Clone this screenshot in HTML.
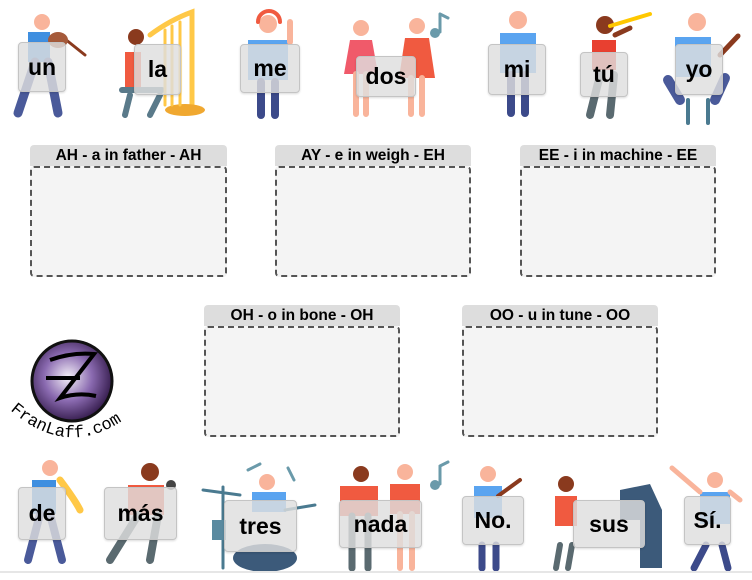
<!DOCTYPE html>
<html><head><meta charset="utf-8"><style>
body{margin:0;width:752px;height:580px;background:#fff;position:relative;overflow:hidden;font-family:"Liberation Sans",Arial,sans-serif}
svg.bg{position:absolute;left:0;top:0}
.c{position:absolute;box-sizing:border-box;background:rgba(222,222,222,0.82);border:1px solid #c4c4c4;border-radius:4px;font-weight:bold;font-size:23px;color:#000;display:flex;align-items:center;justify-content:center;box-shadow:0 1px 2px rgba(0,0,0,.15)}
.h{position:absolute;background:#ddd;border-radius:4px 4px 0 0;font-weight:bold;font-size:15.5px;text-align:center;line-height:21px;height:21px}
.z{position:absolute;box-sizing:border-box;background:#f4f4f4;border:2px dashed #555;border-radius:4px}
</style></head><body>
<svg class="bg" width="752" height="580" viewBox="0 0 752 580">
<defs><radialGradient id="g" cx="0.45" cy="0.45" r="0.6"><stop offset="0" stop-color="#f4f0f8"/><stop offset="0.5" stop-color="#8a6ab0"/><stop offset="1" stop-color="#2a1240"/></radialGradient></defs>
<g stroke-linecap="round" fill="none">
<circle cx="42" cy="22" r="8" fill="#f9b49b"/><path d="M28 32h22v30h-22z" fill="#3f8fe0"/><path d="M35 62L18 113M48 62L58 113" stroke="#4a5a9a" stroke-width="9"/><path d="M60 35L85 55" stroke="#8a3a1e" stroke-width="3"/><ellipse cx="58" cy="40" rx="10" ry="8" fill="#a55a3a"/>
<circle cx="136" cy="37" r="8" fill="#8a3a1e"/><path d="M125 52h16v40h-16z" fill="#f05a40"/><path d="M122 90h40M130 95L125 115M160 95L150 115" stroke="#5a7a8a" stroke-width="6"/><path d="M150 35Q170 20 192 12V110" stroke="#ffc847" stroke-width="5"/><ellipse cx="185" cy="110" rx="20" ry="6" fill="#f0a830"/><path d="M165 30V105M172 26V105M180 22V105" stroke="#ffc847" stroke-width="3"/>
<circle cx="268" cy="24" r="9" fill="#f9b49b"/><path d="M258 22a11 11 0 0 1 22 0" stroke="#f05a40" stroke-width="4"/><path d="M248 40h40v40h-40z" fill="#5aa4f0"/><path d="M261 82V115M275 82V115" stroke="#3c4a8a" stroke-width="8"/><path d="M290 22V42" stroke="#f9b49b" stroke-width="6"/>
<circle cx="361" cy="28" r="8" fill="#f9b49b"/><path d="M350 40h22l6 34h-34z" fill="#f05a6a"/><path d="M356 74V114M366 74V114" stroke="#f9b49b" stroke-width="6"/>
<circle cx="417" cy="26" r="8" fill="#f9b49b"/><path d="M405 38h24l6 40h-36z" fill="#f05a40"/><path d="M411 78V114M422 78V114" stroke="#f9b49b" stroke-width="6"/><path d="M440 14V32M440 14l8 4" stroke="#6a9aaa" stroke-width="3"/><circle cx="435" cy="33" r="5" fill="#6a9aaa"/>
<circle cx="518" cy="20" r="9" fill="#f9b49b"/><path d="M500 33h36v40h-36z" fill="#5aa4f0"/><path d="M511 75V113M525 75V113" stroke="#3c4a8a" stroke-width="8"/>
<circle cx="605" cy="25" r="9" fill="#8a3a1e"/><path d="M592 40h24v30h-24z" fill="#e84030"/><path d="M600 75L590 115M614 75L610 115" stroke="#5a6a70" stroke-width="8"/><path d="M610 26L650 14" stroke="#ffc800" stroke-width="4"/><path d="M615 35L630 28" stroke="#8a3a1e" stroke-width="5"/>
<circle cx="697" cy="22" r="9" fill="#f9b49b"/><path d="M675 37h36v40h-36z" fill="#5aa4f0"/><path d="M668 80L680 100M725 78L715 100" stroke="#4a5a9a" stroke-width="10"/><path d="M688 100V123M708 100V123" stroke="#4a7a90" stroke-width="4"/><path d="M720 55L738 36" stroke="#8a3a1e" stroke-width="5"/>
<circle cx="50" cy="468" r="8" fill="#f9b49b"/><path d="M32 480h24v34h-24z" fill="#3f8fe0"/><path d="M40 514L28 560M50 514L62 560" stroke="#4a5a9a" stroke-width="8"/><path d="M60 480Q75 500 80 510" stroke="#ffc847" stroke-width="7"/>
<circle cx="150" cy="472" r="9" fill="#8a3a1e"/><path d="M128 485h36v30h-36z" fill="#f05a40"/><path d="M138 515L110 560M158 515L150 560" stroke="#5a6a70" stroke-width="8"/><circle cx="171" cy="485" r="5" fill="#444"/>
<path d="M248 470L260 464M288 468L294 480" stroke="#6a9aaa" stroke-width="3"/><circle cx="267" cy="482" r="8" fill="#f9b49b"/><path d="M252 492h34v20h-34z" fill="#5aa4f0"/><path d="M203 490L240 495M285 510L315 505M223 487V568" stroke="#4a7a90" stroke-width="3"/><ellipse cx="265" cy="558" rx="32" ry="14" fill="#3c5a7a"/><rect x="212" y="520" width="14" height="20" fill="#5a8aa0"/>
<circle cx="361" cy="474" r="8" fill="#8a3a1e"/><path d="M340 486h38v30h-38z" fill="#f05a40"/><path d="M352 516V568M368 516V568" stroke="#5a6a70" stroke-width="7"/>
<circle cx="405" cy="472" r="8" fill="#f9b49b"/><path d="M390 484h30v30h-30z" fill="#f05a40"/><path d="M400 514V568M412 514V568" stroke="#f9b49b" stroke-width="6"/><path d="M440 466V484M440 466l8 -4" stroke="#6a9aaa" stroke-width="3"/><circle cx="435" cy="485" r="5" fill="#6a9aaa"/>
<circle cx="488" cy="474" r="8" fill="#f9b49b"/><path d="M474 486h28v32h-28z" fill="#5aa4f0"/><path d="M482 545V568M496 545V568" stroke="#3c4a8a" stroke-width="7"/><path d="M498 496L520 480" stroke="#8a3a1e" stroke-width="4"/>
<circle cx="566" cy="484" r="8" fill="#8a3a1e"/><path d="M555 496h22v30h-22z" fill="#f05a40"/><path d="M560 545L556 568M572 545L568 568" stroke="#5a6a70" stroke-width="6"/><path d="M620 490L650 484L662 510V568H640V520H620z" fill="#3c5a7a"/>
<circle cx="715" cy="480" r="8" fill="#f9b49b"/><path d="M700 492h30v32h-30z" fill="#5aa4f0"/><path d="M706 545L694 568M722 545L728 568" stroke="#3c4a8a" stroke-width="7"/><path d="M700 492L672 468M730 492L740 500" stroke="#f9b49b" stroke-width="5"/>
</g>
<line x1="0" y1="572" x2="752" y2="572" stroke="#e6e6e6" stroke-width="2"/>
<circle cx="72" cy="381" r="40" fill="url(#g)" stroke="#111" stroke-width="3"/>
<path d="M50 360Q72 352 94 354L60 398Q78 392 96 396" stroke="#000" stroke-width="4" fill="none"/><path d="M46 378H80" stroke="#000" stroke-width="4"/>
<path id="arc" d="M10 410Q70 462 130 415" fill="none"/>
<text font-family="Liberation Mono,monospace" font-size="17" fill="#000"><textPath href="#arc">FranLaff.com</textPath></text>
</svg>
<div class="h" style="left:30px;top:145px;width:197px">AH - a in father - AH</div><div class="z" style="left:30px;top:166px;width:197px;height:111px"></div>
<div class="h" style="left:275px;top:145px;width:196px">AY - e in weigh - EH</div><div class="z" style="left:275px;top:166px;width:196px;height:111px"></div>
<div class="h" style="left:520px;top:145px;width:196px">EE - i in machine - EE</div><div class="z" style="left:520px;top:166px;width:196px;height:111px"></div>
<div class="h" style="left:204px;top:305px;width:196px">OH - o in bone - OH</div><div class="z" style="left:204px;top:326px;width:196px;height:111px"></div>
<div class="h" style="left:462px;top:305px;width:196px">OO - u in tune - OO</div><div class="z" style="left:462px;top:326px;width:196px;height:111px"></div>
<div class="c" style="left:18px;top:42px;width:48px;height:50px">un</div>
<div class="c" style="left:134px;top:44px;width:47px;height:51px">la</div>
<div class="c" style="left:240px;top:44px;width:60px;height:49px">me</div>
<div class="c" style="left:356px;top:56px;width:60px;height:41px">dos</div>
<div class="c" style="left:488px;top:44px;width:58px;height:51px">mi</div>
<div class="c" style="left:580px;top:52px;width:48px;height:45px">tú</div>
<div class="c" style="left:675px;top:44px;width:48px;height:51px">yo</div>
<div class="c" style="left:18px;top:487px;width:48px;height:53px">de</div>
<div class="c" style="left:104px;top:487px;width:73px;height:53px">más</div>
<div class="c" style="left:224px;top:500px;width:73px;height:52px">tres</div>
<div class="c" style="left:339px;top:500px;width:83px;height:48px">nada</div>
<div class="c" style="left:462px;top:496px;width:62px;height:49px">No.</div>
<div class="c" style="left:573px;top:500px;width:72px;height:48px">sus</div>
<div class="c" style="left:684px;top:496px;width:47px;height:49px">Sí.</div>
</body></html>
